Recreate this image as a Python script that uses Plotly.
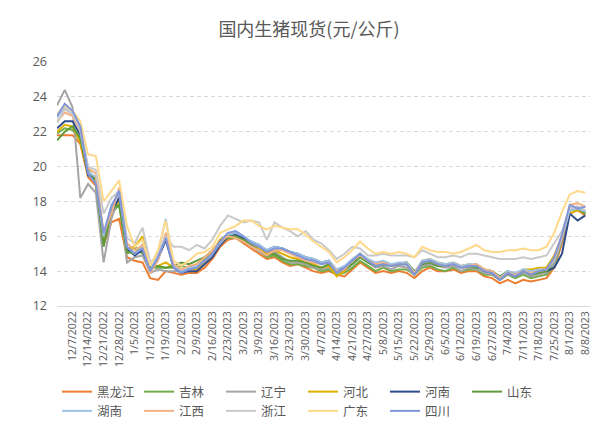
import plotly.graph_objects as go

# category positions: one label every 5 trading days; data sampled every 2.5 positions
x_pos = [i * 2.5 - 5 for i in range(69)]
tick_pos = [i * 5 for i in range(34)]
tick_labels = ["12/7/2022", "12/14/2022", "12/21/2022", "12/28/2022", "1/5/2023", "1/12/2023",
               "1/19/2023", "2/2/2023", "2/9/2023", "2/16/2023", "2/23/2023", "3/2/2023",
               "3/9/2023", "3/16/2023", "3/23/2023", "3/30/2023", "4/7/2023", "4/14/2023",
               "4/21/2023", "4/27/2023", "5/8/2023", "5/15/2023", "5/22/2023", "5/29/2023",
               "6/5/2023", "6/12/2023", "6/19/2023", "6/27/2023", "7/4/2023", "7/11/2023",
               "7/18/2023", "7/25/2023", "8/1/2023", "8/8/2023"]

heilongjiang = [21.8, 21.8, 21.8, 21.3, 19.4, 18.9, 15.5, 16.8, 17.0, 14.8, 14.6, 14.5, 13.6, 13.5, 14.0, 13.9, 13.8, 13.9, 13.9, 14.2, 14.7, 15.4, 15.8, 15.9, 15.6, 15.3, 15.0, 14.7, 14.8, 14.5, 14.3, 14.4, 14.2, 14.0, 13.9, 14.0, 13.8, 13.7, 14.1, 14.5, 14.2, 13.9, 14.0, 13.9, 14.0, 13.9, 13.6, 14.0, 14.2, 14.0, 14.0, 14.1, 13.9, 14.0, 14.0, 13.7, 13.6, 13.3, 13.5, 13.3, 13.5, 13.4, 13.5, 13.6, 14.2, 15.6, 17.3, 17.5, 17.2]
jilin = [21.9, 22.2, 22.1, 21.5, 19.8, 19.0, 15.6, 17.3, 17.8, 15.0, 15.4, 15.0, 14.2, 14.2, 14.2, 14.2, 14.3, 14.2, 14.4, 14.7, 15.1, 15.6, 15.9, 15.9, 15.7, 15.5, 15.2, 14.8, 14.9, 14.6, 14.4, 14.4, 14.3, 14.2, 14.0, 14.1, 13.8, 13.9, 14.2, 14.6, 14.3, 14.0, 14.2, 14.0, 14.1, 14.1, 13.8, 14.2, 14.3, 14.1, 14.0, 14.2, 14.0, 14.1, 14.1, 13.8, 13.8, 13.5, 13.8, 13.6, 13.8, 13.6, 13.7, 13.8, 14.3, 15.8, 17.5, 17.6, 17.4]
liaoning = [23.5, 24.4, 23.4, 18.2, 19.0, 18.5, 14.5, 17.0, 18.3, 14.5, 14.8, 14.9, 13.9, 14.1, 14.0, 14.0, 14.0, 14.1, 14.2, 14.5, 15.0, 15.8, 16.1, 16.2, 15.8, 15.5, 15.1, 14.9, 15.1, 14.8, 14.5, 14.5, 14.4, 14.2, 14.1, 14.2, 13.9, 14.0, 14.4, 14.8, 14.5, 14.2, 14.3, 14.1, 14.3, 14.2, 13.8, 14.3, 14.4, 14.3, 14.2, 14.3, 14.0, 14.2, 14.1, 13.9, 13.8, 13.6, 13.8, 13.7, 13.9, 13.7, 13.8, 13.9, 14.4, 15.9, 17.6, 17.7, 17.4]
hebei = [22.0, 22.4, 22.3, 21.4, 19.5, 19.2, 15.9, 17.5, 18.0, 15.3, 15.4, 16.0, 14.2, 14.3, 14.5, 14.2, 14.0, 14.1, 14.1, 14.6, 15.1, 15.8, 16.1, 16.0, 15.8, 15.6, 15.3, 15.0, 15.2, 15.0, 14.8, 14.7, 14.5, 14.4, 14.2, 14.3, 13.7, 14.0, 14.6, 15.0, 14.6, 14.4, 14.5, 14.3, 14.4, 14.5, 13.8, 14.6, 14.7, 14.5, 14.4, 14.5, 14.3, 14.4, 14.3, 14.1, 14.0, 13.6, 14.0, 13.8, 14.1, 14.1, 14.2, 14.2, 14.9, 16.0, 17.3, 17.5, 17.3]
henan = [22.2, 22.6, 22.6, 21.8, 19.5, 19.3, 16.0, 17.4, 18.2, 15.3, 14.9, 15.2, 14.1, 14.7, 15.8, 14.2, 13.9, 14.0, 14.0, 14.4, 14.8, 15.5, 16.0, 16.1, 15.9, 15.7, 15.5, 15.2, 15.4, 15.3, 15.1, 15.0, 14.8, 14.7, 14.5, 14.6, 14.0, 14.2, 14.6, 14.9, 14.6, 14.4, 14.5, 14.3, 14.4, 14.4, 13.9, 14.5, 14.6, 14.4, 14.3, 14.4, 14.2, 14.3, 14.3, 14.0, 13.9, 13.5, 13.9, 13.7, 14.0, 13.9, 14.0, 14.0, 14.2, 15.0, 17.3, 16.9, 17.2]
shandong = [21.5, 22.0, 22.3, 21.6, 19.8, 19.2, 15.4, 17.6, 17.8, 15.1, 15.0, 15.5, 14.2, 14.3, 14.2, 14.3, 14.5, 14.4, 14.6, 14.8, 15.2, 15.7, 16.0, 16.0, 15.8, 15.5, 15.2, 14.9, 15.0, 14.7, 14.6, 14.6, 14.5, 14.3, 14.2, 14.4, 14.0, 14.1, 14.4, 14.8, 14.5, 14.3, 14.4, 14.3, 14.4, 14.5, 14.0, 14.4, 14.5, 14.3, 14.3, 14.4, 14.2, 14.3, 14.2, 14.1, 14.0, 13.7, 14.0, 13.8, 14.0, 13.8, 13.9, 14.0, 14.6, 16.0, 17.5, 17.6, 17.3]
hunan = [22.8, 23.4, 23.0, 22.0, 19.7, 19.4, 16.0, 17.8, 18.5, 15.4, 15.0, 15.4, 14.0, 15.0, 17.0, 14.3, 14.0, 14.2, 14.3, 14.6, 15.0, 15.6, 16.1, 16.2, 16.0, 15.7, 15.5, 15.2, 15.4, 15.3, 15.1, 15.0, 14.8, 14.7, 14.5, 14.6, 14.1, 14.3, 14.7, 15.0, 14.7, 14.5, 14.6, 14.4, 14.5, 14.5, 13.9, 14.6, 14.7, 14.5, 14.4, 14.5, 14.3, 14.4, 14.4, 14.1, 14.0, 13.6, 14.0, 13.9, 14.1, 14.0, 14.1, 14.1, 14.6, 15.9, 17.5, 17.6, 17.4]
jiangxi = [22.6, 23.1, 22.9, 22.1, 19.9, 19.6, 16.2, 17.3, 18.8, 15.6, 15.2, 15.5, 13.9, 14.6, 16.2, 14.4, 14.1, 14.3, 14.4, 14.8, 15.2, 15.7, 16.0, 15.9, 15.7, 15.4, 15.2, 14.9, 15.2, 15.2, 15.0, 14.8, 14.6, 14.5, 14.4, 14.5, 14.0, 14.1, 14.6, 14.9, 14.6, 14.4, 14.5, 14.3, 14.4, 14.4, 13.9, 14.5, 14.6, 14.4, 14.3, 14.4, 14.2, 14.3, 14.4, 14.1, 14.0, 13.6, 13.9, 13.8, 14.0, 13.9, 14.0, 14.1, 14.7, 16.0, 17.8, 17.9, 17.7]
zhejiang = [22.5, 23.3, 23.0, 22.2, 20.0, 19.8, 17.3, 18.2, 18.6, 15.9, 15.6, 16.5, 14.5, 14.9, 16.0, 15.4, 15.4, 15.2, 15.5, 15.3, 15.8, 16.6, 17.2, 17.0, 16.8, 16.9, 16.8, 15.8, 16.8, 16.5, 16.3, 16.0, 16.3, 15.8, 15.6, 15.2, 14.7, 15.0, 15.4, 15.3, 14.9, 14.9, 15.0, 14.9, 14.9, 14.9, 14.8, 15.2, 15.0, 14.8, 14.8, 14.9, 14.8, 15.0, 15.0, 14.9, 14.8, 14.7, 14.7, 14.7, 14.8, 14.7, 14.8, 14.9, 15.6, 16.3, 17.6, 17.7, 17.5]
guangdong = [23.0, 23.5, 23.2, 22.6, 20.7, 20.6, 18.0, 18.6, 19.2, 16.6, 15.4, 15.8, 14.3, 15.2, 16.9, 14.6, 14.3, 14.6, 15.0, 15.1, 15.4, 16.2, 16.4, 16.6, 16.9, 16.9, 16.6, 16.4, 16.6, 16.5, 16.4, 16.4, 16.1, 15.7, 15.4, 15.1, 14.5, 14.8, 15.2, 15.7, 15.3, 15.0, 15.1, 15.0, 15.1, 15.0, 14.8, 15.4, 15.2, 15.1, 15.1, 15.0, 15.1, 15.3, 15.5, 15.2, 15.1, 15.1, 15.2, 15.2, 15.3, 15.2, 15.2, 15.4, 16.2, 17.4, 18.4, 18.6, 18.5]
sichuan = [22.9, 23.6, 23.2, 22.3, 19.6, 19.0, 16.2, 17.7, 18.6, 15.4, 15.0, 15.3, 14.0, 14.8, 15.9, 14.2, 13.9, 14.1, 14.2, 14.6, 15.0, 15.7, 16.2, 16.3, 16.0, 15.6, 15.4, 15.1, 15.3, 15.3, 15.1, 14.9, 14.7, 14.6, 14.4, 14.5, 13.9, 14.2, 14.6, 15.0, 14.6, 14.3, 14.4, 14.3, 14.4, 14.4, 13.8, 14.5, 14.6, 14.4, 14.3, 14.4, 14.2, 14.3, 14.3, 14.0, 13.9, 13.5, 13.9, 13.7, 14.0, 13.8, 14.0, 14.1, 14.8, 16.1, 17.8, 17.6, 17.7]

series = [
    ("黑龙江", heilongjiang, "#ED7D31"),
    ("吉林", jilin, "#70AD47"),
    ("辽宁", liaoning, "#A5A5A5"),
    ("河北", hebei, "#DDB000"),
    ("河南", henan, "#2F4C8C"),
    ("山东", shandong, "#5E9A3C"),
    ("湖南", hunan, "#9DC3E6"),
    ("江西", jiangxi, "#F4B183"),
    ("浙江", zhejiang, "#C9C9C9"),
    ("广东", guangdong, "#FFD98A"),
    ("四川", sichuan, "#8197DA"),
]

FONT = "Open Sans, Noto Sans CJK SC, sans-serif"
fig = go.Figure()
for name, vals, col in series:
    fig.add_trace(go.Scatter(x=x_pos[:len(vals)], y=vals, mode="lines", name=name,
                             line=dict(color=col, width=2)))

fig.update_layout(
    width=601, height=432,
    margin=dict(l=57, r=9, t=62, b=126),
    paper_bgcolor="white", plot_bgcolor="white",
    font=dict(family=FONT, color="#595959", size=12),
    title=dict(text="国内生猪现货(元/公斤)", x=309 / 601, xref="container", xanchor="center",
               y=1 - 30 / 432, yref="container", yanchor="middle",
               font=dict(family="Noto Sans CJK SC, sans-serif", size=18, color="#595959")),
    showlegend=True,
    legend=dict(orientation="h", x=0.0, xref="paper", xanchor="left",
                y=1 - 377 / 432, yref="container", yanchor="top",
                entrywidth=37, entrywidthmode="pixels", tracegroupgap=0,
                font=dict(family="Noto Sans CJK SC, sans-serif", size=12.5, color="#595959"),
                itemwidth=30),
)
fig.update_xaxes(range=[-5, 166.5], tickmode="array", tickvals=tick_pos, ticktext=tick_labels,
                 tickangle=-90, showgrid=False, zeroline=False, showline=True,
                 linecolor="#D9D9D9", linewidth=1, ticks="",
                 tickfont=dict(size=10.5, color="#595959", family=FONT))
fig.update_yaxes(range=[12, 26], dtick=2, showgrid=True, gridcolor="#D9D9D9", griddash="4px,3px",
                 gridwidth=1, zeroline=False, showline=False, ticks="", ticklabelstandoff=9,
                 tickfont=dict(size=12.5, color="#595959", family=FONT))

fig.write_html("out.html", config={"displayModeBar": False},
               post_script="document.body.style.margin='0';document.body.style.overflow='hidden';")
